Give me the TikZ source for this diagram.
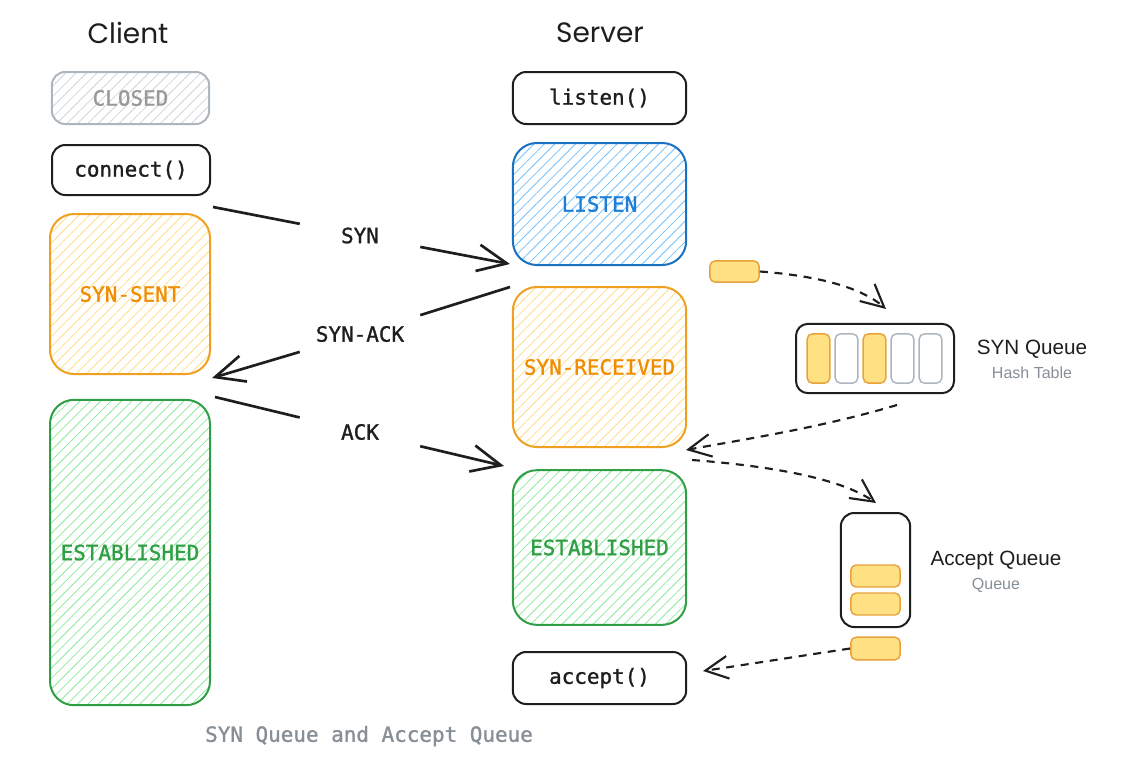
\documentclass[tikz,border=0pt]{standalone}
\usepackage{fontspec}
\setmainfont{Liberation Sans}
\setmonofont{DejaVu Sans Mono}[BoldFont={DejaVu Sans Mono},BoldFeatures={FakeBold=1.2}]
\newfontfamily\titlefont{Poppins}
\usetikzlibrary{arrows.meta,patterns.meta}
\definecolor{cOrange}{HTML}{F0A020}
\definecolor{tOrange}{HTML}{F08C00}
\definecolor{hOrange}{HTML}{FFDD88}
\definecolor{cBlue}{HTML}{1971C2}
\definecolor{tBlue}{HTML}{1C7ED6}
\definecolor{hBlue}{HTML}{74C0FC}
\definecolor{cGreen}{HTML}{2F9E44}
\definecolor{hGreen}{HTML}{8CE99A}
\definecolor{cGray}{HTML}{ADB5BD}
\definecolor{tGray}{HTML}{999999}
\definecolor{hGray}{HTML}{CED4DA}
\definecolor{capGray}{HTML}{868E96}
\definecolor{tokFill}{HTML}{FFE083}
\definecolor{tokLine}{HTML}{E8A33D}
\definecolor{ink}{HTML}{1E1E1E}
\tikzset{
  mono/.style={font=\ttfamily\bfseries\fontsize{15.7}{18}\selectfont},
  box/.style={draw=ink, line width=1.5pt, rounded corners=10pt, mono, text=ink, inner sep=0pt},
  state/.style={line width=1.5pt, rounded corners=18pt, mono, inner sep=0pt},
  hatch/.style={pattern={Lines[angle=45,distance=5.5pt,line width=0.6pt]}, pattern color=#1},
  msg/.style={mono, text=ink, minimum width=90pt, minimum height=36pt, inner sep=0pt},
  token/.style={draw=tokLine, fill=tokFill, line width=1.1pt, rounded corners=4pt, inner sep=0pt},
  gcell/.style={draw=cGray, fill=white, line width=1.1pt, rounded corners=4pt, inner sep=0pt, minimum width=17pt, minimum height=37pt},
  ycell/.style={token, minimum width=17pt, minimum height=37pt},
  solidarrow/.style={draw=ink, line width=2pt, -{Straight Barb[length=22pt,width=20pt,line width=2pt]}},
  dasharrow/.style={draw=ink, line width=1.6pt, dash pattern=on 6pt off 5pt, -{Straight Barb[length=17pt,width=17pt,line width=1.6pt]}},
  title/.style={font=\titlefont\fontsize{21}{24}\selectfont, text=ink},
  qtitle/.style={font=\fontsize{15.5}{18}\selectfont, text=ink},
  qsub/.style={font=\fontsize{12}{14}\selectfont, text=capGray},
}
\begin{document}
\begin{tikzpicture}[x=0.75pt,y=-0.75pt]
\useasboundingbox (0,0) rectangle (1129,761);
% titles
\node[title] (client) at (128,33) {Client};
\node[title] (server) at (600,33) {Server};
% client column
\node[state, draw=cGray, hatch=hGray, text=tGray, minimum width=118pt, minimum height=39pt, rounded corners=10pt] (closed) at (130.5,98) {CLOSED};
\node[box, minimum width=118.5pt, minimum height=37.5pt] (connect) at (131,170) {connect()};
\node[state, draw=cOrange, hatch=hOrange, text=tOrange, minimum width=120pt, minimum height=120pt] (synsent) at (130,294) {SYN-SENT};
\node[state, draw=cGreen, hatch=hGreen, text=cGreen, minimum width=120pt, minimum height=229pt] (estc) at (130,552.5) {ESTABLISHED};
% server column
\node[box, minimum width=130pt, minimum height=39pt] (listen) at (599.5,98) {listen()};
\node[state, draw=cBlue, hatch=hBlue, text=tBlue, minimum width=130pt, minimum height=91.5pt] (listenst) at (599.5,204) {LISTEN};
\node[state, draw=cOrange, hatch=hOrange, text=tOrange, minimum width=130pt, minimum height=120pt] (synrcv) at (599.5,367) {SYN-RECEIVED};
\node[state, draw=cGreen, hatch=hGreen, text=cGreen, minimum width=130pt, minimum height=116pt] (ests) at (599.5,547.5) {ESTABLISHED};
\node[box, minimum width=130pt, minimum height=39pt] (accept) at (599.5,678) {accept()};
% message labels
\node[msg] (syn) at (360,235.5) {SYN};
\node[msg] (synack) at (360,334) {SYN-ACK};
\node[msg] (ack) at (360,432) {ACK};
\coordinate (synA) at (213,207);
\coordinate (synB) at (510,264);
\coordinate (saA) at (510,287);
\coordinate (saB) at (212,378);
\coordinate (ackA) at (215,397);
\coordinate (ackB) at (504,466);
\draw[ink, line width=2pt] (synA) -- (syn);
\draw[solidarrow] (syn) -- (synB);
\draw[ink, line width=2pt] (saA) -- (synack);
\draw[solidarrow] (synack) -- (saB);
\draw[ink, line width=2pt] (ackA) -- (ack);
\draw[solidarrow] (ack) -- (ackB);
% SYN queue
\node[token, minimum width=37pt, minimum height=16pt] (tok1) at (734.5,271.5) {};
\node[draw=ink, line width=1.5pt, rounded corners=9pt, minimum width=118.5pt, minimum height=52pt, inner sep=0pt] (synq) at (875,358.5) {};
\node[ycell] (c1) at (818.5,358.5) {};
\node[gcell] (c2) at (846.5,358.5) {};
\node[ycell] (c3) at (874.5,358.5) {};
\node[gcell] (c4) at (902.5,358.5) {};
\node[gcell] (c5) at (930.5,358.5) {};
\node[qtitle] (synqt) at (1032,349) {SYN Queue};
\node[qsub] (synqs) at (1032,373) {Hash Table};
% accept queue
\node[draw=ink, line width=1.5pt, rounded corners=10pt, minimum width=52pt, minimum height=85.5pt, inner sep=0pt] (accq) at (875.5,570) {};
\node[token, minimum width=37pt, minimum height=16.5pt] (a1) at (875.5,576) {};
\node[token, minimum width=37pt, minimum height=16.5pt] (a2) at (875.5,604) {};
\node[token, minimum width=37pt, minimum height=17pt] (tok2) at (875.5,648.5) {};
\node[qtitle] (accqt) at (996,560) {Accept Queue};
\node[qsub] (accqs) at (996,585) {Queue};
% dashed flows
\coordinate (d1end) at (886,309);
\draw[dasharrow] (tok1.east) .. controls (820,276) and (862,288) .. (d1end);
\coordinate (d2start) at (897,405);
\coordinate (d2end) at (686,450);
\draw[dasharrow] (d2start) .. controls (820,428) and (740,440) .. (d2end);
\coordinate (d3start) at (692,460);
\coordinate (d3end) at (876,503);
\draw[dasharrow] (d3start) .. controls (770,466) and (840,478) .. (d3end);
\coordinate (d4end) at (703,671);
\draw[dasharrow] (tok2.west) .. controls (800,656) and (750,664) .. (d4end);
% caption
\node[mono, text=capGray] (caption) at (369,736) {SYN Queue and Accept Queue};
\end{tikzpicture}
\end{document}
